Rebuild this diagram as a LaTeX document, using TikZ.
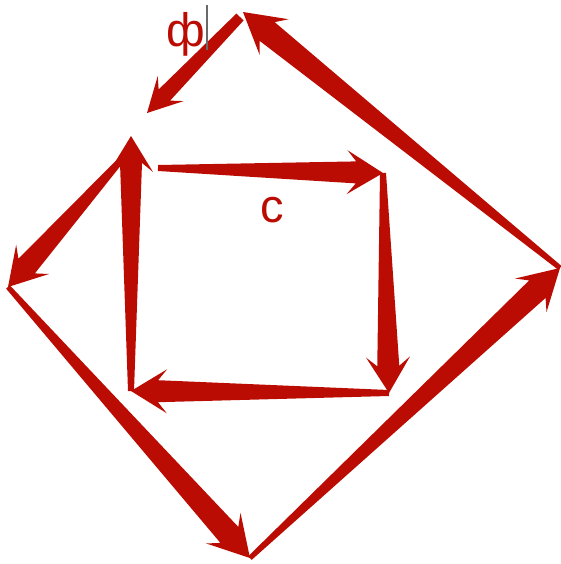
\documentclass[tikz,border=0pt]{standalone}
\usepackage{fontspec}
\setmainfont{Liberation Sans}
\usetikzlibrary{calc}
\definecolor{arrowred}{RGB}{187,12,4}
\definecolor{cursorgray}{RGB}{105,105,105}
% tapered arrow: from #1 to #2, tail half width #3, body half width #4, head half width #5, head length #6
\newcommand{\tarrow}[6]{%
  \coordinate (h) at ($(#2)!#6pt!(#1)$);
  \coordinate (n) at ($(#2)!#6pt-9pt!(#1)$);
  \fill[arrowred] ($(#1)!#3pt!90:(#2)$) -- ($(n)!#4pt!-90:(#1)$) -- ($(h)!#5pt!-90:(#1)$) -- (#2)
    -- ($(h)!#5pt!90:(#1)$) -- ($(n)!#4pt!90:(#1)$) -- ($(#1)!#3pt!-90:(#2)$) -- cycle;}

\begin{document}
\begin{tikzpicture}[x=1pt,y=-1pt,every node/.style={inner sep=0pt,text=arrowred,font=\fontsize{47}{47}\selectfont}]
  \useasboundingbox (0,0) rectangle (561,564);
  % outer diamond
  \coordinate (top) at (243,12);
  \coordinate (right) at (560,268);
  \coordinate (bottom) at (250,558);
  \coordinate (left) at (8,287);
  % inner square
  \coordinate (sqtl) at (131,136);
  \coordinate (sqtr) at (383,173);
  \coordinate (sqbr) at (389,393);
  \coordinate (sqbl) at (131,391);
  \coordinate (cstart) at (158,168);
  \coordinate (phistart) at (240,17);
  \coordinate (phitip) at (147,113);
  \coordinate (tlstart) at (130,150);

  \tarrow{left}{bottom}{2.5}{12}{23}{40}
  \tarrow{bottom}{right}{2.5}{12}{23}{40}
  \tarrow{right}{top}{2.5}{12}{23}{40}
  \tarrow{tlstart}{left}{2.5}{11}{22}{37}
  \tarrow{phistart}{phitip}{5}{8}{18}{34}

  \tarrow{cstart}{sqtr}{3}{11}{22}{36}
  \tarrow{sqtr}{sqbr}{3}{11}{22}{36}
  \tarrow{sqbr}{sqbl}{3}{11}{22}{36}
  \tarrow{sqbl}{sqtl}{3}{11}{22}{36}

  \node (phi) at (186,34) {ф};
  \node (c) at (272,210) {c};
  \draw[cursorgray,line width=2.5pt] (207,5) coordinate (cura) -- (207,50) coordinate (curb);
\end{tikzpicture}
\end{document}
